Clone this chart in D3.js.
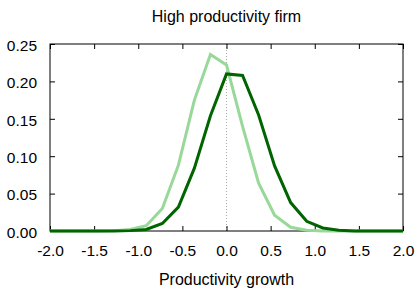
<!DOCTYPE html>
<html>
<head>
<meta charset="utf-8">
<script src="https://cdn.jsdelivr.net/npm/d3@7"></script>
<style>
  body { margin: 0; background: #fff; }
  text { font-family: 'Liberation Sans', Arial, sans-serif; fill: #000; }
</style>
</head>
<body>
<svg id="chart"></svg>
<script>
// grid of productivity growth values
const growth = [-2.000, -1.818, -1.636, -1.455, -1.273, -1.091, -0.909, -0.727,
  -0.545, -0.364, -0.182, 0.000, 0.182, 0.364, 0.545, 0.727, 0.909, 1.091,
  1.273, 1.455, 1.636, 1.818, 2.000];

// light green series
const lightSeries = [0, 0, 0, 0, 0.0005, 0.002, 0.007, 0.030,
  0.088, 0.175, 0.236, 0.222, 0.140, 0.064, 0.021, 0.005, 0.001, 0,
  0, 0, 0, 0, 0];

// dark green series
const darkSeries = [0, 0, 0, 0, 0, 0.0005, 0.002, 0.010,
  0.032, 0.084, 0.154, 0.210, 0.208, 0.155, 0.087, 0.038, 0.013, 0.004,
  0.001, 0, 0, 0, 0];

const xTicks = [-2.0, -1.5, -1.0, -0.5, 0.0, 0.5, 1.0, 1.5, 2.0];
const yTicks = [0.00, 0.05, 0.10, 0.15, 0.20, 0.25];

const cfg = {
  width: 415,
  height: 289,
  left: 50,
  right: 403,
  top: 44,
  bottom: 231,
  tickLen: 5,
  lightColor: '#98d898',
  darkColor: '#006400',
  tickFont: 15.5,
  labelFont: 16,
};

// plain hyphen instead of unicode minus
const fmt = p => d => d3.format(p)(d).replace('\u2212', '-');

const svg = d3.select('#chart')
  .attr('width', cfg.width)
  .attr('height', cfg.height);

const x = d3.scaleLinear().domain([-2, 2]).range([cfg.left, cfg.right]);
const y = d3.scaleLinear().domain([0, 0.25]).range([cfg.bottom, cfg.top]);

// dotted zero line
svg.append('line')
  .attr('x1', x(0)).attr('x2', x(0))
  .attr('y1', y(0.25)).attr('y2', y(0))
  .attr('stroke', '#aaa')
  .attr('stroke-width', 1)
  .attr('stroke-dasharray', '1,2');

// bottom axis (ticks inward)
const xAxis = svg.append('g')
  .attr('transform', 'translate(0,' + cfg.bottom + ')')
  .call(d3.axisBottom(x).tickValues(xTicks).tickSize(-cfg.tickLen).tickPadding(14)
    .tickFormat(fmt('.1f')));

// top axis ticks
const xAxisTop = svg.append('g')
  .attr('transform', 'translate(0,' + cfg.top + ')')
  .call(d3.axisTop(x).tickValues(xTicks).tickSize(-cfg.tickLen).tickFormat(''));

// left axis
const yAxis = svg.append('g')
  .attr('transform', 'translate(' + cfg.left + ',0)')
  .call(d3.axisLeft(y).tickValues(yTicks).tickSize(-cfg.tickLen).tickPadding(13)
    .tickFormat(fmt('.2f')));

// right axis ticks
const yAxisRight = svg.append('g')
  .attr('transform', 'translate(' + cfg.right + ',0)')
  .call(d3.axisRight(y).tickValues(yTicks).tickSize(-cfg.tickLen).tickFormat(''));

[xAxis, xAxisTop, yAxis, yAxisRight].forEach(g => {
  g.select('.domain').remove();
  g.selectAll('.tick line').attr('stroke', '#000');
  g.selectAll('.tick text')
    .style('font-size', cfg.tickFont + 'px')
    .style('font-family', "'Liberation Sans', Arial, sans-serif")
    .attr('fill', '#000');
});
xAxis.selectAll('.tick text').attr('dy', '0.71em');
yAxis.selectAll('.tick text').attr('dy', '0.4em');

// frame
svg.append('rect')
  .attr('x', cfg.left).attr('y', cfg.top)
  .attr('width', cfg.right - cfg.left)
  .attr('height', cfg.bottom - cfg.top)
  .attr('fill', 'none')
  .attr('stroke', '#000')
  .attr('stroke-width', 1);

const line = d3.line()
  .x((d, i) => x(growth[i]))
  .y(d => y(d));

svg.append('path')
  .datum(lightSeries)
  .attr('d', line)
  .attr('fill', 'none')
  .attr('stroke', cfg.lightColor)
  .attr('stroke-width', 3)
  .attr('stroke-linejoin', 'miter');

svg.append('path')
  .datum(darkSeries)
  .attr('d', line)
  .attr('fill', 'none')
  .attr('stroke', cfg.darkColor)
  .attr('stroke-width', 3)
  .attr('stroke-linejoin', 'miter');

// title
svg.append('text')
  .attr('x', x(0))
  .attr('y', 22)
  .attr('text-anchor', 'middle')
  .style('font-size', cfg.labelFont + 'px')
  .text('High productivity firm');

// x label
svg.append('text')
  .attr('x', x(0))
  .attr('y', 285)
  .attr('text-anchor', 'middle')
  .style('font-size', cfg.labelFont + 'px')
  .text('Productivity growth');
</script>
</body>
</html>
